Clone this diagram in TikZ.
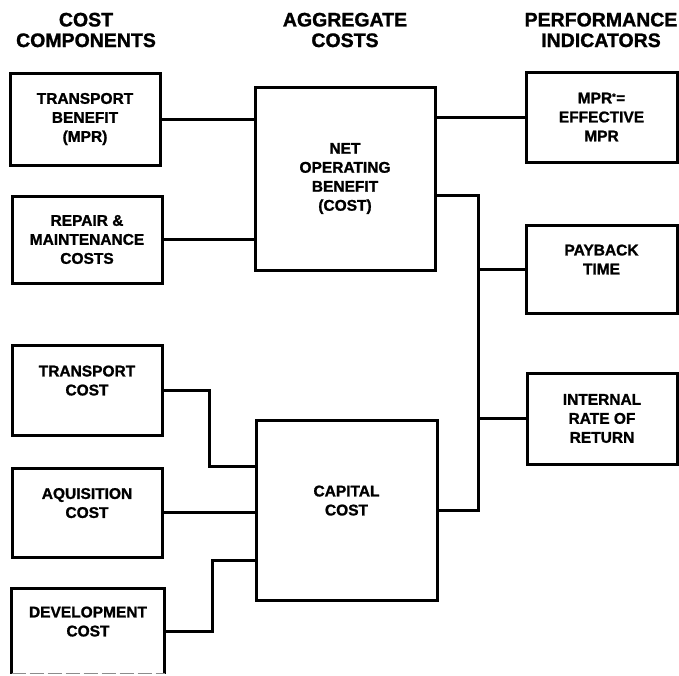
\documentclass[tikz,border=0pt]{standalone}
\usepackage{fontspec}
\setmainfont{Liberation Sans}[BoldFeatures={FakeBold=1.3}]
\begin{document}
\begin{tikzpicture}[x=1pt,y=-1pt,
  box/.style={draw=black, line width=3pt, rectangle, align=center, inner sep=0pt,
    font=\fontsize{15.5}{19}\selectfont\bfseries},
  head/.style={align=center, inner sep=0pt, font=\fontsize{19.5}{20.6}\selectfont\bfseries},
  wire/.style={line width=3pt, line join=miter}]
\useasboundingbox (0,0) rectangle (679,675);
% headers
\node[head] (h1) at (86,30) {COST\\COMPONENTS};
\node[head] (h2) at (345,30) {AGGREGATE\\COSTS};
\node[head] (h3) at (601,30) {PERFORMANCE\\INDICATORS};
% cost components
\node[box, minimum width=150pt, minimum height=92pt] (tb) at (85,119) {TRANSPORT\\BENEFIT\\(MPR)};
\node[box, minimum width=150pt, minimum height=87pt] (rm) at (87,239.5) {REPAIR \&\\MAINTENANCE\\COSTS};
\node[box, minimum width=150pt, minimum height=90pt] (tc) at (87,390) {TRANSPORT\\COST\\\mbox{}};
\node[box, minimum width=150pt, minimum height=89pt] (aq) at (87,512.5) {AQUISITION\\COST\\\mbox{}};
\node[box, draw=none, minimum width=150pt, minimum height=82pt] (dv) at (88,631) {DEVELOPMENT\\COST\\\mbox{}};
\draw[line width=3pt] (dv.south west) -- (dv.north west) -- (dv.north east) -- (dv.south east);
\draw[line width=1pt, black!45, dash pattern=on 14pt off 4pt] (dv.south west) -- (dv.south east);
% aggregate costs
\node[box, minimum width=180pt, minimum height=183pt] (nob) at (345,178.5) {NET\\OPERATING\\BENEFIT\\(COST)};
\node[box, minimum width=181pt, minimum height=180pt] (cap) at (346.5,510) {CAPITAL\\COST\\\mbox{}};
% performance indicators
\node[box, minimum width=151pt, minimum height=90pt] (mpr) at (601.5,117) {MPR\raisebox{0.45ex}{\fontsize{9}{9}\selectfont *}\kern0.5pt{=}\\EFFECTIVE\\MPR};
\node[box, minimum width=151pt, minimum height=88pt] (pb) at (601.5,269) {PAYBACK\\TIME\\\mbox{}};
\node[box, minimum width=150pt, minimum height=91pt] (irr) at (602,418.5) {INTERNAL\\RATE OF\\RETURN};
% junctions
\coordinate (j1) at (478,195);
\coordinate (j2) at (478,510);
\coordinate (k1) at (209,466);
\coordinate (k2) at (212,560);
% connectors
\draw[wire] (tb.east) -- (tb.east -| nob.west);
\draw[wire] (rm.east) -- (rm.east -| nob.west);
\draw[wire] (mpr.west -| nob.east) -- (mpr.west);
\draw[wire] (nob.east |- j1) -- (j1) -- (j2) -- (cap.east |- j2);
\draw[wire] (pb.west -| j1) -- (pb.west);
\draw[wire] (irr.west -| j1) -- (irr.west);
\draw[wire] (tc.east) -| (k1) -- (k1 -| cap.west);
\draw[wire] (aq.east) -- (aq.east -| cap.west);
\draw[wire] (dv.east) -| (k2) -- (k2 -| cap.west);
\end{tikzpicture}
\end{document}
